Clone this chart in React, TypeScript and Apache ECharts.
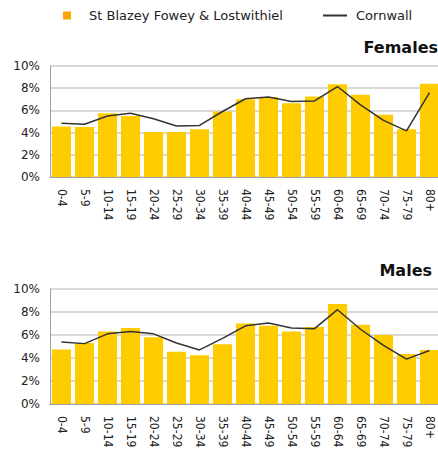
import React, { useEffect, useRef } from "react";
import * as echarts from "echarts";

const categories = ["0-4","5-9","10-14","15-19","20-24","25-29","30-34","35-39","40-44","45-49","50-54","55-59","60-64","65-69","70-74","75-79","80+"];
const areaName = "St Blazey Fowey & Lostwithiel";
const countyName = "Cornwall";
const femaleArea = [4.55, 4.5, 5.75, 5.5, 4.05, 4.05, 4.3, 5.9, 7.0, 7.2, 6.65, 7.25, 8.35, 7.4, 5.6, 4.3, 8.4];
const femaleCounty = [4.85, 4.75, 5.5, 5.75, 5.25, 4.6, 4.65, 5.9, 7.05, 7.2, 6.8, 6.85, 8.15, 6.5, 5.1, 4.15, 7.6];
const maleArea = [4.75, 5.3, 6.3, 6.6, 5.8, 4.55, 4.25, 5.2, 7.0, 6.8, 6.3, 6.7, 8.7, 6.9, 6.0, 4.35, 4.7];
const maleCounty = [5.4, 5.25, 6.1, 6.3, 6.1, 5.3, 4.7, 5.7, 6.8, 7.05, 6.6, 6.55, 8.2, 6.5, 5.1, 3.9, 4.65];
const yTicks = [0, 2, 4, 6, 8, 10];

const FONT = "DejaVu Sans, Verdana, sans-serif";
const NARROW = "Liberation Sans Narrow, DejaVu Sans Condensed, sans-serif";

export default function App() {
  const ref = useRef<HTMLDivElement>(null);
  useEffect(() => {
    document.body.style.margin = "0";
    const chart = echarts.init(ref.current!, null, { renderer: "svg" });
    const xAxisBase = (gridIndex: number) => ({
      type: "category",
      gridIndex,
      data: categories,
      axisLine: { lineStyle: { color: "#a0a0a0", width: 1 } },
      axisTick: { show: false },
      axisLabel: { rotate: -90, margin: 12, color: "#222", fontFamily: NARROW, fontSize: 12, interval: 0 },
    });
    const yAxisBase = (gridIndex: number) => ({
      type: "value",
      gridIndex,
      min: yTicks[0],
      max: yTicks[yTicks.length - 1],
      interval: 2,
      axisLine: { show: true, lineStyle: { color: "#a0a0a0", width: 1 } },
      axisTick: { show: false },
      splitLine: { lineStyle: { color: "#cccccc", width: 1.5 } },
      axisLabel: { formatter: "{value}%", color: "#222", fontFamily: FONT, fontSize: 12, margin: 10 },
    });
    const barStyle = { color: "#FFCC00" };
    const lineStyle = { color: "#333333", width: 1.5 };
    chart.setOption({
      animation: false,
      backgroundColor: "#ffffff",
      textStyle: { fontFamily: FONT },
      legend: [
        {
          left: 63, top: 9, padding: 0, itemWidth: 8, itemHeight: 8, itemGap: 10,
          data: [{ name: areaName, icon: "rect", itemStyle: { color: "#F7A800" } }],
          textStyle: { fontFamily: FONT, fontSize: 13, color: "#222", padding: [0, 0, 0, 13] },
        },
        {
          left: 323, top: 9, padding: 0, itemWidth: 24, itemHeight: 2,
          data: [{ name: countyName, icon: "rect" }],
          textStyle: { fontFamily: FONT, fontSize: 13, color: "#222", padding: [0, 0, 0, 4] },
        },
      ],
      title: [
        { text: "Females", right: 0, top: 39, padding: 0, textStyle: { fontFamily: FONT, fontSize: 16, fontWeight: "bold", color: "#111" } },
        { text: "Males", right: 6, top: 262, padding: 0, textStyle: { fontFamily: FONT, fontSize: 16, fontWeight: "bold", color: "#111" } },
      ],
      grid: [
        { left: 50, top: 66, width: 391, height: 111, outerBoundsMode: "none", containLabel: false },
        { left: 50, top: 289, width: 391, height: 115, outerBoundsMode: "none", containLabel: false },
      ],
      xAxis: [xAxisBase(0), xAxisBase(1)],
      yAxis: [yAxisBase(0), yAxisBase(1)],
      series: [
        { name: areaName, type: "bar", xAxisIndex: 0, yAxisIndex: 0, data: femaleArea, itemStyle: barStyle, barCategoryGap: "17%" },
        { name: countyName, type: "line", xAxisIndex: 0, yAxisIndex: 0, data: femaleCounty, symbol: "none", lineStyle, itemStyle: { color: "#333333" } },
        { name: areaName, type: "bar", xAxisIndex: 1, yAxisIndex: 1, data: maleArea, itemStyle: barStyle, barCategoryGap: "17%" },
        { name: countyName, type: "line", xAxisIndex: 1, yAxisIndex: 1, data: maleCounty, symbol: "none", lineStyle, itemStyle: { color: "#333333" } },
      ],
    });
    return () => chart.dispose();
  }, []);
  return <div ref={ref} style={{ width: 438, height: 450, overflow: "hidden" }} />;
}
